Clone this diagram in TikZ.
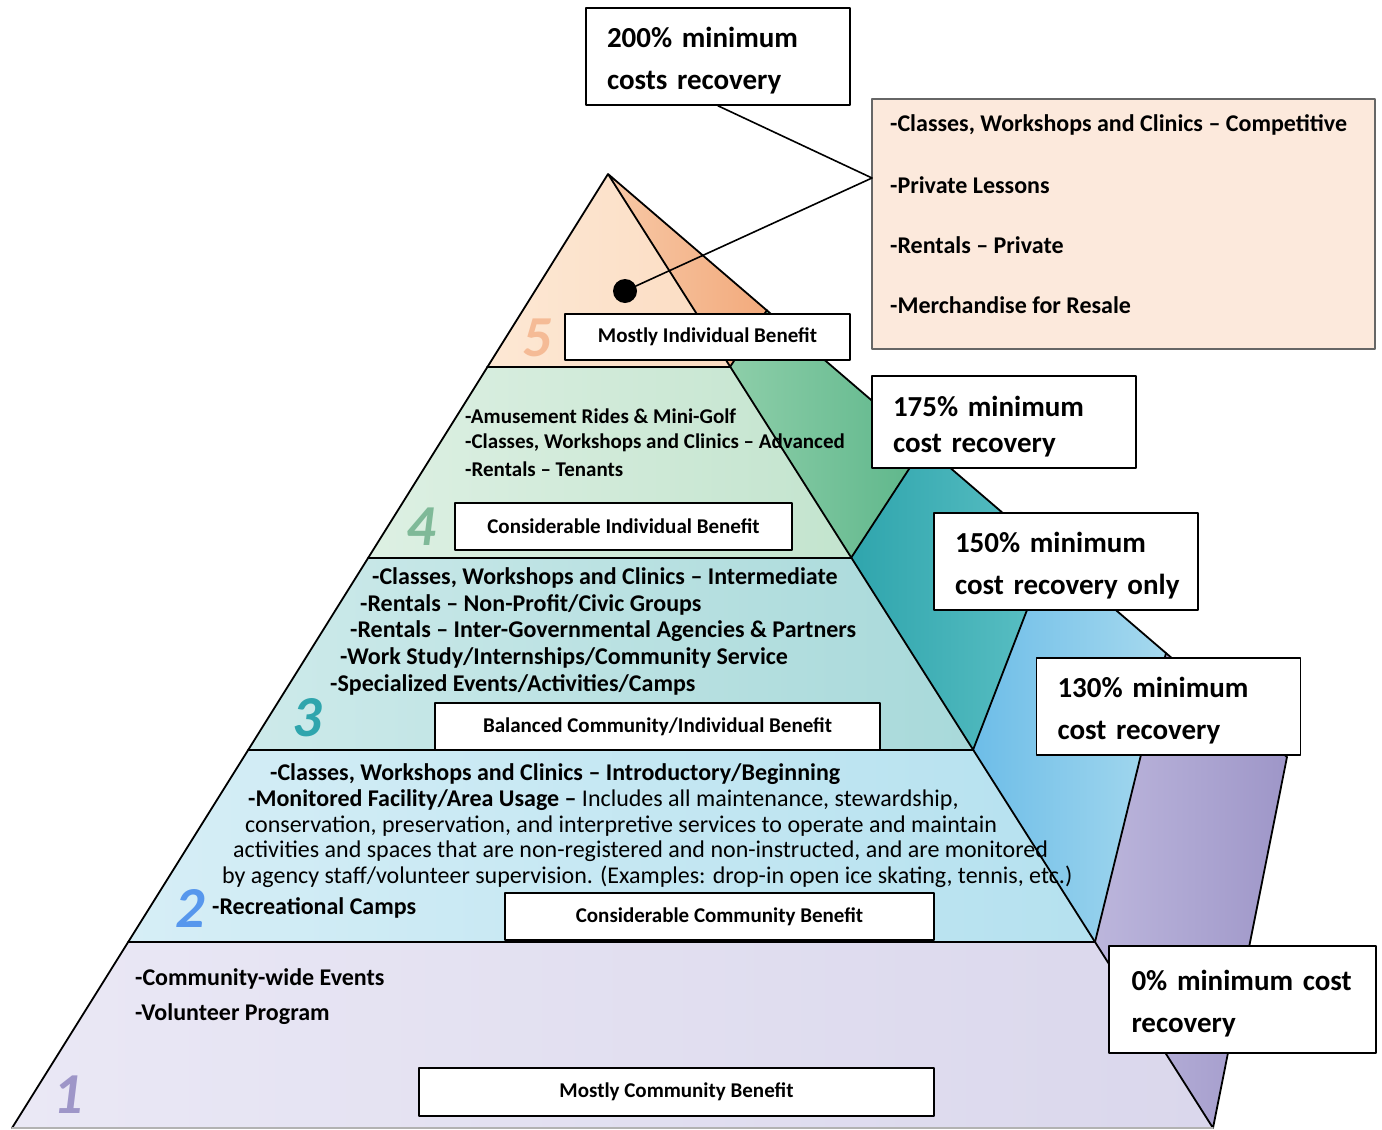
\documentclass[tikz,border=0pt]{standalone}
\usepackage{fontspec}
\setmainfont{Carlito}
\definecolor{fivea}{HTML}{FDE8D4}\definecolor{fiveb}{HTML}{FBDCC2}
\definecolor{foura}{HTML}{DDF0E3}\definecolor{fourb}{HTML}{C3E4CE}
\definecolor{threea}{HTML}{CDEAEA}\definecolor{threeb}{HTML}{A8D9DA}
\definecolor{twoa}{HTML}{D6EEF6}\definecolor{twob}{HTML}{B5E1EF}
\definecolor{onea}{HTML}{EAE8F5}\definecolor{oneb}{HTML}{DAD7EC}
\definecolor{sfivea}{HTML}{F7C8A6}\definecolor{sfiveb}{HTML}{F2AA7C}
\definecolor{sfoura}{HTML}{8DCEA9}\definecolor{sfourb}{HTML}{5DB68A}
\definecolor{sthreea}{HTML}{2FA5AD}\definecolor{sthreeb}{HTML}{5CC0C4}
\definecolor{stwoa}{HTML}{6DBDE8}\definecolor{stwob}{HTML}{A6D9EE}
\definecolor{sonea}{HTML}{BCB6DC}\definecolor{soneb}{HTML}{9E96C8}
\definecolor{listfill}{HTML}{FCE9DC}
\newcommand\costgap{\rule{0pt}{29pt}}
\begin{document}
\begin{tikzpicture}[x=1pt, y=-1pt, line join=round, line cap=round,
  edge/.style={line width=1.8pt},
  costbox/.style={draw, line width=1.6pt, fill=white, text width=222pt, inner xsep=21pt, inner ysep=0pt, align=left, font=\fontsize{29}{42}\selectfont\bfseries},
  tierbox/.style={draw, line width=1.6pt, fill=white, inner sep=0pt, font=\fontsize{21}{25}\selectfont\bfseries},
  tiertext/.style={anchor=west, inner sep=0pt, font=\fontsize{24}{28}\selectfont\bfseries},
  plain/.style={anchor=west, inner sep=0pt, font=\fontsize{24}{28}\selectfont},
  num/.style={inner sep=0pt, font=\fontsize{58}{58}\selectfont\bfseries\itshape}]
\useasboundingbox (0,0) rectangle (1382,1130);
\coordinate (apex) at (608,174);
\coordinate (l5) at (487,367); \coordinate (r5) at (730,367); \coordinate (p5) at (767,310);
\coordinate (l4) at (368,558); \coordinate (r4) at (851,558); \coordinate (p4) at (924,446);
\coordinate (l3) at (248,750); \coordinate (r3) at (973,750); \coordinate (p3) at (1049,553);
\coordinate (l2) at (128,942); \coordinate (r2) at (1095,942); \coordinate (p2) at (1166,653);
\coordinate (l1) at (12,1128); \coordinate (r1) at (1213,1128); \coordinate (p1) at (1287,757);
% side
\shade[left color=sfivea, right color=sfiveb] (apex) -- (p5) -- (r5) -- cycle;
\shade[left color=sfoura, right color=sfourb] (r5) -- (p5) -- (p4) -- (r4) -- cycle;
\shade[left color=sthreea, right color=sthreeb] (r4) -- (p4) -- (p3) -- (r3) -- cycle;
\shade[left color=stwoa, right color=stwob] (r3) -- (p3) -- (p2) -- (r2) -- cycle;
\shade[left color=sonea, right color=soneb] (r2) -- (p2) -- (p1) -- (r1) -- cycle;
% front
\shade[left color=fivea, right color=fiveb] (apex) -- (l5) -- (r5) -- cycle;
\shade[left color=foura, right color=fourb] (l5) -- (r5) -- (r4) -- (l4) -- cycle;
\shade[left color=threea, right color=threeb] (l4) -- (r4) -- (r3) -- (l3) -- cycle;
\shade[left color=twoa, right color=twob] (l3) -- (r3) -- (r2) -- (l2) -- cycle;
\shade[left color=onea, right color=oneb] (l2) -- (r2) -- (r1) -- (l1) -- cycle;
\draw[edge] (apex) -- (l1) (apex) -- (r1) (apex) -- (p1) -- (r1);
\draw[edge] (l5) -- (r5) -- (p5) (l4) -- (r4) -- (p4) (l3) -- (r3) -- (p3) (l2) -- (r2) -- (p2);
\draw[edge, gray!60] (l1) -- (r1);
\node[num, text=sfiveb!80] (n5) at (537,338) {5};
\node[num, text=sfoura!90!black] (n4) at (421,527) {4};
\node[num, text=sthreea] (n3) at (307,718) {3};
\node[num, text=stwoa!80!blue] (n2) at (190,908) {2};
\node[num, text=soneb] (n1) at (68,1095) {1};
% benefit boxes
\node[tierbox, minimum width=285, minimum height=46] (box5) at (707.5,337) {Mostly Individual Benefit};
\node[tierbox, minimum width=337, minimum height=47] (box4) at (623.5,526.5) {Considerable Individual Benefit};
\node[tierbox, minimum width=445, minimum height=47] (box3) at (657.5,726.5) {Balanced Community/Individual Benefit};
\node[tierbox, minimum width=429, minimum height=47] (box2) at (719.5,916.5) {Considerable Community Benefit};
\node[tierbox, minimum width=515, minimum height=48] (box1) at (676.5,1092) {Mostly Community Benefit};
% tier lists
\foreach \t [count=\i] in {{-Amusement Rides \& Mini-Golf}, {-Classes, Workshops and Clinics – Advanced}, {-Rentals – Tenants}}
  \node[tiertext, font=\fontsize{21}{25}\selectfont\bfseries] (four\i) at (465,390+26.5*\i) {\t};
\foreach \t/\x [count=\i] in {{-Classes, Workshops and Clinics – Intermediate}/372, {-Rentals – Non-Profit/Civic Groups}/360,
    {-Rentals – Inter-Governmental Agencies \& Partners}/350, {-Work Study/Internships/Community Service}/340,
    {-Specialized Events/Activities/Camps}/330}
  \node[tiertext] (three\i) at (\x,551.25+26.75*\i) {\t};
\node[tiertext] (two1) at (270,774) {-Classes, Workshops and Clinics – Introductory/Beginning};
\node[plain] (two2) at (248,800) {\textbf{-Monitored Facility/Area Usage –} Includes all maintenance, stewardship,};
\node[plain] (two3) at (245,826) {conservation, preservation, and interpretive services to operate and maintain};
\node[plain] (two4) at (233,851) {activities and spaces that are non-registered and non-instructed, and are monitored};
\node[plain] (two5) at (222,877) {by agency staff/volunteer supervision. (Examples: drop-in open ice skating, tennis, etc.)};
\node[tiertext] (two6) at (212,908) {-Recreational Camps};
\node[tiertext] (one1) at (135,979) {-Community-wide Events};
\node[tiertext] (one2) at (135,1014) {-Volunteer Program};
% cost recovery
\node[draw=black!60, line width=1.2pt, fill=listfill, minimum width=503, minimum height=250, inner sep=0pt] (list) at (1123.5,224) {};
\foreach \t [count=\i] in {{-Classes, Workshops and Clinics – Competitive}, {-Private Lessons}, {-Rentals – Private}, {-Merchandise for Resale}}
  \node[tiertext] (item\i) at (890,65+60*\i) {\t};
\node[costbox, minimum height=97] (cost200) at (718,56.5) {\costgap200\% minimum\\costs recovery};
\node[costbox, minimum height=92, font=\fontsize{29}{36}\selectfont\bfseries] (cost175) at (1004,422) {\costgap175\% minimum\\cost recovery};
\node[costbox, minimum height=97] (cost150) at (1066,561.5) {\costgap150\% minimum\\\mbox{cost recovery only}};
\node[costbox, minimum height=97] (cost130) at (1168.5,706.5) {\costgap130\% minimum\\cost recovery};
\node[costbox, minimum height=107, minimum width=267] (cost0) at (1242.5,999.5) {\costgap\mbox{0\% minimum cost}\\recovery};
\coordinate (hub) at (872,178);
\node[circle, fill, inner sep=0pt, minimum size=24] (dot) at (625,291) {};
\draw[line width=1.6pt] (cost200.south) -- (hub) -- (dot);
\end{tikzpicture}
\end{document}
